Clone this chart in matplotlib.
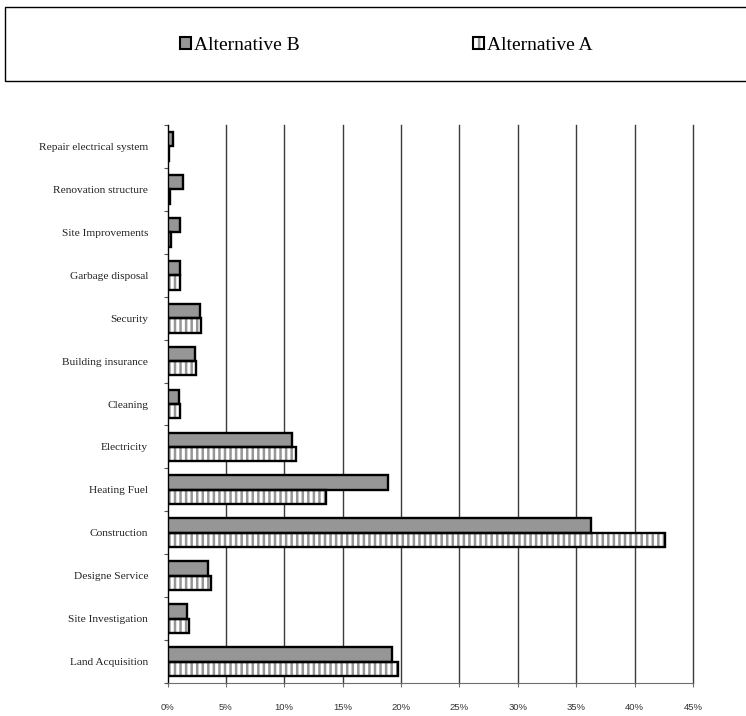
import numpy as np
import matplotlib
matplotlib.use("Agg")
import matplotlib.pyplot as plt
from matplotlib.patches import Rectangle
from matplotlib.ticker import FuncFormatter

# cost shares per item, in percent (bottom to top)
categories = ["Land Acquisition", "Site Investigation", "Designe Service", "Construction",
              "Heating Fuel", "Electricity", "Cleaning", "Building insurance", "Security",
              "Garbage disposal", "Site Improvements", "Renovation structure",
              "Repair electrical system"]
alt_b = [19.2, 1.7, 3.5, 36.3, 18.85, 10.7, 1.0, 2.35, 2.8, 1.05, 1.05, 1.3, 0.45]
alt_a = [19.7, 1.8, 3.7, 42.6, 13.6, 11.0, 1.05, 2.45, 2.85, 1.05, 0.3, 0.2, 0.1]
x_ticks = list(range(0, 50, 5))

GRAY = "#969696"
plt.rcParams["hatch.linewidth"] = 1.8

fig = plt.figure(figsize=(7.46, 7.16), dpi=100)
ax = fig.add_axes([167.5 / 746, 1 - 683 / 716, (693 - 167.5) / 746, (683 - 125) / 716])

y = np.arange(len(categories))
h = 0.335

# vertical grid behind the bars
for xt in x_ticks[1:]:
    ax.axvline(xt, color="#3c3c3c", lw=1.0, zorder=0, clip_on=False)

ax.barh(y + h / 2, alt_b, height=h, color=GRAY, edgecolor="black", linewidth=1.7, zorder=3)
# striped bars: hatch first, black outline on top
ax.barh(y - h / 2, alt_a, height=h, color="white", edgecolor=GRAY, hatch="|||", linewidth=0, zorder=2)
ax.barh(y - h / 2, alt_a, height=h, fill=False, edgecolor="black", linewidth=1.7, zorder=3)

ax.set_xlim(0, 45)
ax.set_ylim(-0.5, len(categories) - 0.5)
ax.set_xticks(x_ticks)
ax.xaxis.set_major_formatter(FuncFormatter(lambda v, p: f"{v:.0f}%"))
ax.tick_params(axis="x", direction="out", length=3, width=0.8, color="#6e6e6e",
               pad=11.5, labelsize=6.8, labelcolor="#333333")
for lab in ax.get_xticklabels():
    lab.set_fontfamily("Liberation Sans")

ax.set_yticks(y)
ax.set_yticklabels(categories, fontfamily="Liberation Serif", fontsize=8.2, color="#222222")
ax.set_yticks(np.arange(len(categories) + 1) - 0.5, minor=True)
ax.tick_params(axis="y", which="major", length=0, pad=14)
ax.tick_params(axis="y", which="minor", direction="out", length=3, width=0.8, color="#555555")

for side in ("top", "right"):
    ax.spines[side].set_visible(False)
ax.spines["left"].set_color("black")
ax.spines["left"].set_linewidth(1.0)
ax.spines["bottom"].set_color("#6e6e6e")
ax.spines["bottom"].set_linewidth(0.8)

# legend frame running off the right edge
fig.patches.append(Rectangle((5 / 746, 1 - 81 / 716), 1.0, 74 / 716, transform=fig.transFigure,
                             fill=False, edgecolor="black", linewidth=1.0, clip_on=False))

hb = Rectangle((0, 0), 1, 1, facecolor=GRAY, edgecolor="black", linewidth=1.5)
ha_fill = Rectangle((0, 0), 1, 1, facecolor="white", edgecolor=GRAY, hatch="||", linewidth=0)
ha_edge = Rectangle((0, 0), 1, 1, fill=False, edgecolor="black", linewidth=1.5)
fig.legend([hb, (ha_fill, ha_edge)], ["Alternative B", "Alternative A"], ncol=2,
           loc="center left", bbox_to_anchor=(180 / 746, 1 - 45 / 716), frameon=False,
           prop={"family": "Liberation Serif", "size": 14}, handlelength=0.57,
           handleheight=0.57, handletextpad=0.15, columnspacing=8.9,
           borderpad=0, borderaxespad=0)

fig.savefig("out.png", dpi=100)
